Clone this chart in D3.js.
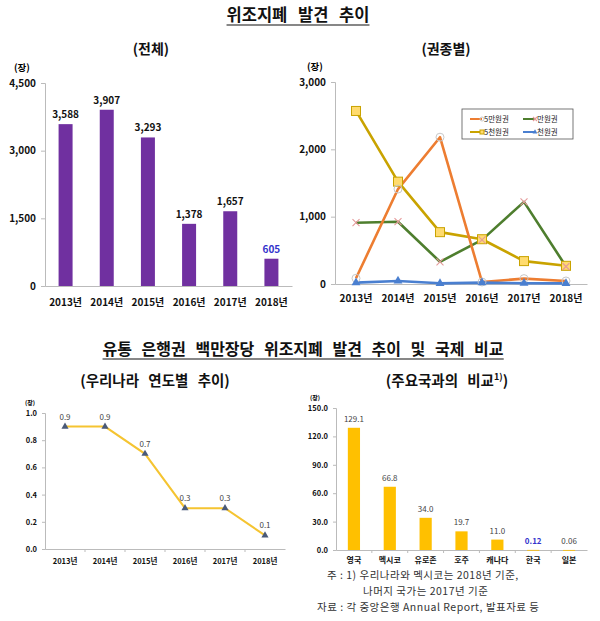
<!DOCTYPE html>
<html><head><meta charset="utf-8">
<script src="https://cdn.jsdelivr.net/npm/d3@7/dist/d3.min.js"></script>
<style>
body{margin:0;background:#fff;}
svg{display:block;font-family:"Noto Sans CJK KR","Noto Sans",sans-serif;}
</style></head>
<body><svg id="c" width="600" height="621"></svg>
<script>
// ---- data ----
const years = ["2013년","2014년","2015년","2016년","2017년","2018년"];
const totalCounts = [3588,3907,3293,1378,1657,605];
const totalTicks = [0,1500,3000,4500];

const denomNames = ["5만원권","만원권","5천원권","천원권"];
const won50000 = [85,1410,2180,30,80,45];
const won10000 = [910,925,330,655,1220,260];
const won5000  = [2570,1520,770,665,340,270];
const won1000  = [20,45,10,20,12,10];
const denomTicks = [0,1000,2000,3000];

const perMillion = [0.9,0.9,0.7,0.3,0.3,0.1];
const perMillionTicks = [0.0,0.2,0.4,0.6,0.8,1.0];

const countries = ["영국","멕시코","유로존","호주","캐나다","한국","일본"];
const countryValues = [129.1,66.8,34.0,19.7,11.0,0.12,0.06];
const countryLabels = ["129.1","66.8","34.0","19.7","11.0","0.12","0.06"];
const countryTicks = [0,30,60,90,120,150];

const svg = d3.select("#c");
const FONT = '"Noto Sans CJK KR","Noto Sans",sans-serif';

// ---- titles ----
function title(x,y,text,size,underline,ws){
  const t = svg.append("text").attr("x",x).attr("y",y).attr("text-anchor","middle")
    .attr("font-size",size).attr("font-weight","bold").attr("fill","#111")
    .attr("word-spacing",ws||0).text(text);
  if(underline){
    const bb = t.node().getBBox();
    svg.append("line").attr("x1",bb.x).attr("x2",bb.x+bb.width)
      .attr("y1",y+4).attr("y2",y+4).attr("stroke","#111").attr("stroke-width",1.2);
  }
  return t;
}
title(298,21,"위조지폐 발견 추이",16.5,true,7);
title(151,54,"(전체)",14,false,0);
title(446,54,"(권종별)",14,false,0);
title(303,355,"유통 은행권 백만장당 위조지폐 발견 추이 및 국제 비교",16,true,6);
title(155,386,"(우리나라 연도별 추이)",14.5,false,6);
const t4 = svg.append("text").attr("x",447).attr("y",386).attr("text-anchor","middle")
  .attr("font-size",14.5).attr("font-weight","bold").attr("fill","#111").attr("word-spacing",6);
t4.append("tspan").text("(주요국과의 비교");
t4.append("tspan").attr("font-size",9).attr("dy",-6).text("1)");
t4.append("tspan").attr("dy",6).text(")");

function yAxis(g, y, x0, ticks, fmt, size, bold, tickLen){
  g.append("g").attr("transform",`translate(${x0},0)`)
    .call(d3.axisLeft(y).tickValues(ticks).tickFormat(fmt).tickSize(tickLen).tickPadding(5))
    .call(a=>{a.select(".domain").attr("stroke","#bbb");
      a.selectAll(".tick line").attr("stroke","#bbb");
      a.selectAll("text").attr("font-size",size).attr("font-weight",bold?"bold":"normal")
       .attr("fill","#111").attr("font-family",FONT);});
}
function xAxis(g, x, y0, size, pad, showTicks){
  g.append("g").attr("transform",`translate(0,${y0})`)
    .call(d3.axisBottom(x).tickSize(0).tickPadding(pad))
    .call(a=>{a.select(".domain").attr("stroke","#bbb");
      a.selectAll("text").attr("font-size",size).attr("font-weight","bold")
       .attr("fill","#111").attr("font-family",FONT);});
  if(showTicks){
    const dom = x.domain();
    const bounds = dom.slice(1).map(d=>x(d)-x.step()*x.paddingInner()/2);
    g.selectAll(null).data(bounds).enter().append("line")
      .attr("x1",d=>d).attr("x2",d=>d).attr("y1",y0).attr("y2",y0+3).attr("stroke","#bbb");
  }
}

// ---- chart 1: total ----
{
  const g = svg.append("g");
  const x = d3.scaleBand().domain(years).range([45,292]).paddingInner(0.66).paddingOuter(0.33);
  const y = d3.scaleLinear().domain([0,4500]).range([286,83]);
  yAxis(g,y,45,totalTicks,d3.format(","),10,true,4);
  xAxis(g,x,286,10,13,false);
  g.selectAll("rect.bar").data(totalCounts).enter().append("rect")
    .attr("x",(d,i)=>x(years[i])).attr("width",x.bandwidth())
    .attr("y",d=>y(d)).attr("height",d=>y(0)-y(d)).attr("fill","#7030A0");
  g.selectAll("text.val").data(totalCounts).enter().append("text")
    .attr("x",(d,i)=>x(years[i])+x.bandwidth()/2).attr("y",d=>y(d)-6)
    .attr("text-anchor","middle").attr("font-size",10).attr("font-weight","bold")
    .attr("fill",(d,i)=>i===5?"#3333CC":"#111").text(d3.format(","));
  g.append("text").attr("x",22).attr("y",71).attr("text-anchor","middle")
    .attr("font-size",9.5).attr("font-weight","bold").text("(장)");
}

// ---- chart 2: by denomination ----
{
  const g = svg.append("g");
  const x = d3.scaleBand().domain(years).range([335,587]).paddingInner(0).paddingOuter(0);
  const cx = d => x(d)+x.bandwidth()/2;
  const y = d3.scaleLinear().domain([0,3000]).range([284,82]);
  yAxis(g,y,335,denomTicks,d3.format(","),10,true,4);
  xAxis(g,x,284,10,11,false);
  g.append("text").attr("x",315).attr("y",70).attr("text-anchor","middle")
    .attr("font-size",9.5).attr("font-weight","bold").text("(장)");
  const series = [
    {name:denomNames[0],vals:won50000,color:"#ED7D31",marker:"circle"},
    {name:denomNames[1],vals:won10000,color:"#4E7E2E",marker:"x"},
    {name:denomNames[2],vals:won5000,color:"#C9A300",marker:"square"},
    {name:denomNames[3],vals:won1000,color:"#4A7FD0",marker:"triangle"}
  ];
  const line = d3.line().x((d,i)=>cx(years[i])).y(d=>y(d));
  [2,1,0,3].forEach(k=>{
    const s = series[k];
    g.append("path").datum(s.vals).attr("d",line).attr("fill","none")
      .attr("stroke",s.color).attr("stroke-width",2.6).attr("stroke-linejoin","round");
  });
  function marker(gg,type,px,py,color,size){
    if(type==="circle"){
      gg.append("circle").attr("cx",px).attr("cy",py).attr("r",size||4)
        .attr("fill","none").attr("stroke","#c8c8c8").attr("stroke-width",1);
    } else if(type==="x"){
      const r=size||3.5;
      gg.append("path").attr("d",`M${px-r},${py-r}L${px+r},${py+r}M${px-r},${py+r}L${px+r},${py-r}`)
        .attr("stroke","#E59A9A").attr("stroke-width",1.1);
    } else if(type==="square"){
      const r=size||4.5;
      gg.append("rect").attr("x",px-r).attr("y",py-r).attr("width",2*r).attr("height",2*r)
        .attr("fill","#FFDB6E").attr("stroke","#C9A300").attr("stroke-width",1);
    } else {
      gg.append("path").attr("d",d3.symbol(d3.symbolTriangle,size||34)()).attr("transform",`translate(${px},${py})`)
        .attr("fill","#4A7FD0");
    }
  }
  [2,1,0,3].forEach(k=>{
    const s=series[k];
    s.vals.forEach((v,i)=>marker(g,s.marker,cx(years[i]),y(v),s.color));
  });
  // legend
  const lg = g.append("g");
  lg.append("rect").attr("x",462).attr("y",109).attr("width",111).attr("height",30)
    .attr("fill","#fff").attr("stroke","#555").attr("stroke-width",0.8);
  const pos=[[470,119],[523,119],[470,132],[523,132]];
  series.forEach((s,i)=>{
    const [lx,ly]=pos[i];
    lg.append("line").attr("x1",lx).attr("x2",lx+12).attr("y1",ly).attr("y2",ly)
      .attr("stroke",s.color).attr("stroke-width",2);
    marker(lg,s.marker,lx+12,ly,s.color,s.marker==="triangle"?10:2);
    lg.append("text").attr("x",lx+14).attr("y",ly+3).attr("font-size",7.5)
      .attr("fill","#222").text(s.name);
  });
}

// ---- chart 3: per million (Korea) ----
{
  const g = svg.append("g");
  const x = d3.scaleBand().domain(years).range([45,285]).paddingInner(0).paddingOuter(0);
  const cx = d => x(d)+x.bandwidth()/2;
  const y = d3.scaleLinear().domain([0,1]).range([549,413]);
  yAxis(g,y,45,perMillionTicks,d3.format(".1f"),7.5,true,3);
  xAxis(g,x,549,7.5,10,true);
  g.append("text").attr("x",30).attr("y",405).attr("text-anchor","middle")
    .attr("font-size",6).attr("font-weight","bold").text("(장)");
  const line = d3.line().x((d,i)=>cx(years[i])).y(d=>y(d));
  g.append("path").datum(perMillion).attr("d",line).attr("fill","none")
    .attr("stroke","#F5C431").attr("stroke-width",2);
  g.selectAll("path.m").data(perMillion).enter().append("path")
    .attr("d",d3.symbol(d3.symbolTriangle,22)())
    .attr("transform",(d,i)=>`translate(${cx(years[i])},${y(d)})`).attr("fill","#4A5A78");
  g.selectAll("text.v").data(perMillion).enter().append("text")
    .attr("x",(d,i)=>cx(years[i])).attr("y",d=>y(d)-7).attr("text-anchor","middle")
    .attr("font-size",8).attr("fill","#444").text(d3.format(".1f"));
}

// ---- chart 4: country comparison ----
{
  const g = svg.append("g");
  const x = d3.scaleBand().domain(countries).range([336,587]).paddingInner(0.66).paddingOuter(0.33);
  const y = d3.scaleLinear().domain([0,150]).range([550,408]);
  yAxis(g,y,336,countryTicks,d3.format(".1f"),7.5,true,3);
  xAxis(g,x,550,8,7,true);
  g.append("text").attr("x",315).attr("y",400).attr("text-anchor","middle")
    .attr("font-size",6).attr("font-weight","bold").text("(장)");
  g.selectAll("rect.b").data(countryValues).enter().append("rect")
    .attr("x",(d,i)=>x(countries[i])).attr("width",x.bandwidth())
    .attr("y",d=>y(d)).attr("height",d=>Math.max(0.8,y(0)-y(d))).attr("fill","#FFC000");
  g.selectAll("text.v").data(countryValues).enter().append("text")
    .attr("x",(d,i)=>x(countries[i])+x.bandwidth()/2).attr("y",d=>y(d)-6)
    .attr("text-anchor","middle").attr("font-size",8)
    .attr("font-weight",(d,i)=>i===5?"bold":"normal")
    .attr("fill",(d,i)=>i===5?"#3333CC":"#444").text((d,i)=>countryLabels[i]);
}

// ---- notes ----
const notes = svg.append("g").attr("font-size",10.5).attr("letter-spacing",0.5).attr("fill","#333");
notes.append("text").attr("x",327).attr("y",579).text("주 : 1) 우리나라와 멕시코는 2018년 기준,");
notes.append("text").attr("x",363).attr("y",595).text("나머지 국가는 2017년 기준");
notes.append("text").attr("x",317).attr("y",611).text("자료 : 각 중앙은행 Annual Report, 발표자료 등");
</script></body></html>
